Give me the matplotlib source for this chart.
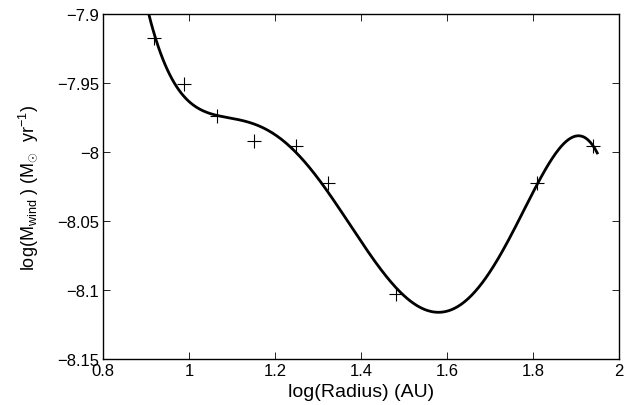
import numpy as np
import matplotlib
matplotlib.use('Agg')
import matplotlib.pyplot as plt

# data points (log radius in AU, log mass-loss rate)
log_r = [0.9186, 0.9876, 1.0659, 1.1519, 1.2488, 1.3240, 1.4814, 1.8100, 1.9403]
log_mdot = [-7.9176, -7.9507, -7.9741, -7.9918, -7.9957, -8.0222, -8.1029, -8.0225, -7.9959]

xticks = [0.8, 1.0, 1.2, 1.4, 1.6, 1.8, 2.0]
xticklabels = ['0.8', '1', '1.2', '1.4', '1.6', '1.8', '2']
yticks = [-8.15, -8.1, -8.05, -8.0, -7.95, -7.9]
yticklabels = ['\u22128.15', '\u22128.1', '\u22128.05', '\u22128', '\u22127.95', '\u22127.9']

plt.rcParams['font.family'] = ['Liberation Sans', 'DejaVu Sans']
plt.rcParams['mathtext.fontset'] = 'custom'
plt.rcParams['mathtext.rm'] = 'Liberation Sans'
plt.rcParams['mathtext.it'] = 'Liberation Sans'

fig = plt.figure(figsize=(6.32, 4.06), dpi=100)
ax = fig.add_axes([0.163, 0.1133, 0.816, 0.8497])

# 5th order polynomial fit through the points
p = np.polyfit(log_r, log_mdot, 5)
xs = np.linspace(0.88, 1.95, 400)
ax.plot(xs, np.polyval(p, xs), color='k', lw=2)
ax.plot(log_r, log_mdot, '+', color='k', ms=10, mew=0.8)

ax.set_xlim(0.8, 2)
ax.set_ylim(-8.15, -7.9)
ax.set_xticks(xticks)
ax.set_xticklabels(xticklabels)
ax.set_yticks(yticks)
ax.set_yticklabels(yticklabels)
ax.tick_params(direction='in', top=True, right=True, length=5, width=0.6,
               labelsize=12, pad=3)
for s in ax.spines.values():
    s.set_linewidth(1.0)

ax.set_xlabel('log(Radius) (AU)', fontsize=14, labelpad=3.5)
ax.set_ylabel(r'log(M$_{\mathrm{wind}}$ ) (M$_{\odot}$  yr$^{-1}$)', fontsize=13, labelpad=12)

fig.savefig('out.png')
